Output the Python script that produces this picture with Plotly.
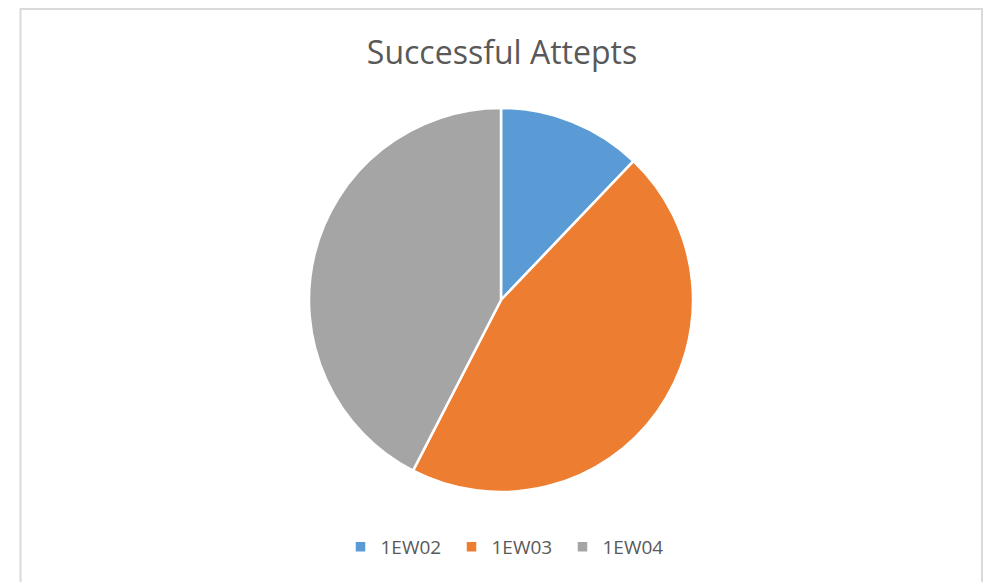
import plotly.graph_objects as go

labels = ["1EW02", "1EW03", "1EW04"]
values = [4, 15, 14]
colors = ["#5B9BD5", "#ED7D31", "#A5A5A5"]

W, H = 987, 582
cx, cy, r = 501, 300, 192

fig = go.Figure(go.Pie(
    labels=labels, values=values, sort=False, direction="clockwise", rotation=0,
    marker=dict(colors=colors, line=dict(color="white", width=2.5)),
    textinfo="none", hoverinfo="label+value+percent",
    domain=dict(x=[(cx - r) / W, (cx + r) / W], y=[1 - (cy + r) / H, 1 - (cy - r) / H]),
))

fig.update_layout(
    width=W, height=H,
    margin=dict(l=0, r=0, t=0, b=0),
    paper_bgcolor="white", plot_bgcolor="white",
    font=dict(family="Open Sans, Noto Sans, sans-serif", color="#595959"),
    title=dict(text="Successful Attepts", x=502 / W, xanchor="center",
               y=1 - 53 / H, yanchor="middle",
               font=dict(size=32, color="#595959")),
    legend=dict(orientation="h", x=507 / W, xanchor="center", y=1 - 547 / H, yanchor="middle",
                font=dict(size=19, color="#595959"), itemwidth=30, traceorder="normal",
                entrywidth=66, entrywidthmode="pixels"),
    shapes=[dict(type="rect", xref="paper", yref="paper",
                 x0=20.5 / W, x1=982 / W, y0=-0.05, y1=1 - 9 / H,
                 line=dict(color="#D9D9D9", width=2), layer="below")],
)

fig.write_html(
    "out.html",
    config={"displayModeBar": False},
    post_script="document.body.style.margin='0';document.body.style.overflow='hidden';",
)
